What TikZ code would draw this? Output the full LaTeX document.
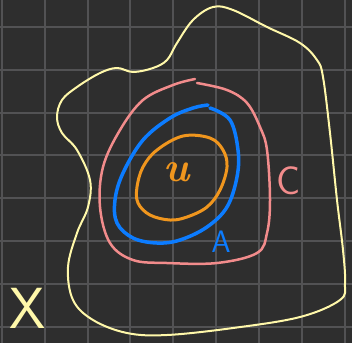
\documentclass[tikz,border=0pt]{standalone}
\usetikzlibrary{positioning}
\definecolor{boardbg}{RGB}{46,46,46}
\definecolor{gridgray}{RGB}{82,82,84}
\definecolor{setyellow}{RGB}{255,248,170}
\definecolor{setpink}{RGB}{242,140,140}
\definecolor{setblue}{RGB}{12,124,255}
\definecolor{setorange}{RGB}{240,150,30}

\begin{document}
\begin{tikzpicture}[
  x=1pt, y=-1pt,
  gridline/.style={gridgray, line width=2pt},
  curve/.style={line width=#1, line cap=round, line join=round},
  lbl/.style={inner sep=0pt, font=\sffamily}
]
  \useasboundingbox (0,0) rectangle (352,343);
  \fill[boardbg] (0,0) rectangle (352,343);

  % grid
  \foreach \gx in {1.7,44.6,...,350} \draw[gridline] (\gx,0) -- (\gx,343);
  \foreach \gy in {26.7,69.6,...,340} \draw[gridline] (0,\gy) -- (352,\gy);

  % X
  \draw[curve=2pt, setyellow] plot[smooth cycle, tension=0.6] coordinates {
    (213,7) (233,10) (267,27) (300,43) (317,60) (323,77) (330,133) (337,200)
    (343,250) (345,283) (340,300) (300,317) (233,328) (167,335) (127,333)
    (93,320) (73,300) (68,267) (77,233) (88,207) (90,180) (77,150) (62,133)
    (57,117) (62,100) (77,87) (100,73) (117,68) (133,72) (153,68) (167,60)
    (177,43) (193,20)};

  % C
  \draw[curve=2.5pt, setpink] plot[smooth, tension=0.6] coordinates {
    (197,83) (227,90) (247,103) (260,127) (267,150) (270,200) (267,233)
    (257,253) (217,263) (167,263) (133,260) (110,243) (100,207) (103,167)
    (120,130) (143,100) (173,85) (195,79)};

  % A
  \draw[curve=3.5pt, setblue] plot[smooth, tension=0.6] coordinates {
    (210,108) (230,120) (238,150) (237,177) (227,207) (207,227) (180,240)
    (157,243) (133,238) (117,223) (115,200) (123,173) (143,140) (170,118)
    (193,108) (208,105)};

  % u
  \draw[curve=3pt, setorange] plot[smooth cycle, tension=0.6] coordinates {
    (183,136) (210,138) (223,150) (227,167) (220,190) (207,207) (187,217)
    (170,220) (150,215) (138,203) (137,187) (143,167) (157,150)};

  \node[lbl, setorange, font=\rmfamily\bfseries\itshape\fontsize{42}{42}\selectfont] (ulabel) at (177,172) {u};
  \node[lbl, setpink, font=\sffamily\fontsize{40}{40}\selectfont] (clabel) at (289,181) {C};
  \node[lbl, setblue, font=\sffamily\fontsize{31}{31}\selectfont] (alabel) at (221,242) {A};
  \node[lbl, setyellow, font=\sffamily\fontsize{58}{58}\selectfont] (xlabel) at (28,308) {X};
\end{tikzpicture}
\end{document}
